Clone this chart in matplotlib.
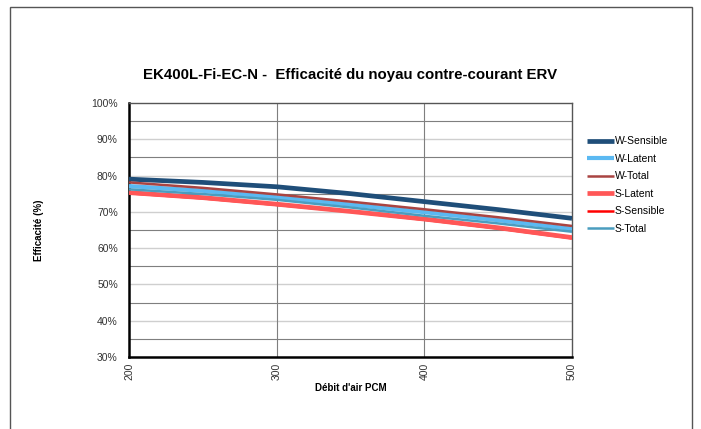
import matplotlib
matplotlib.use("Agg")
import matplotlib.pyplot as plt
from matplotlib.patches import Rectangle
import numpy as np

# débit d'air (PCM) et efficacités (%)
debit = [200, 250, 300, 350, 400, 450, 500]
w_sensible = [79.0, 78.1, 76.9, 75.0, 72.8, 70.6, 68.2]
w_latent = [77.1, 75.8, 74.0, 72.0, 69.9, 67.7, 65.3]
w_total = [78.1, 76.6, 74.8, 72.8, 70.7, 68.5, 66.1]
s_latent = [75.3, 73.9, 72.1, 70.1, 68.0, 65.6, 62.9]
s_sensible = [75.1, 73.7, 71.9, 70.0, 67.8, 65.4, 62.7]
s_total = [76.2, 74.9, 73.3, 71.2, 68.9, 66.8, 64.5]

noms = ["W-Sensible", "W-Latent", "W-Total", "S-Latent", "S-Sensible", "S-Total"]
series = [w_sensible, w_latent, w_total, s_latent, s_sensible, s_total]
couleurs = ["#1F4E79", "#5BB9F2", "#A94442", "#FF5757", "#FF0000", "#4A9DBF"]
largeurs = [3.4, 3.0, 1.8, 3.4, 1.8, 1.8]
ordre = [3, 3, 4, 4, 3.5, 5]  # S-Sensible caché sous S-Latent

plt.rcParams["font.family"] = ["Liberation Sans", "DejaVu Sans"]

fig = plt.figure(figsize=(7.01, 4.29), dpi=100)
ax = fig.add_axes([0.184, 0.168, 0.632, 0.592])

# cadre extérieur
fig.patches.append(Rectangle((10 / 701, -0.05), 682 / 701, 1.05 - 7 / 429,
                             transform=fig.transFigure, fill=False,
                             edgecolor="#555555", linewidth=1.0))

# grille
for v in np.arange(35, 100, 10):
    ax.axhline(v, color="#7f7f7f", linewidth=0.8, zorder=1)
for v in np.arange(40, 100, 10):
    ax.axhline(v, color="#cfcfcf", linewidth=1.0, zorder=1)
for v in [300, 400]:
    ax.axvline(v, color="#7f7f7f", linewidth=0.8, zorder=1)

for nom, y, c, lw, z in zip(noms, series, couleurs, largeurs, ordre):
    ax.plot(debit, y, color=c, linewidth=lw, label=nom, zorder=z,
            solid_capstyle="butt")

ax.set_xlim(200, 500)
ax.set_ylim(30, 100)
ax.set_xticks([200, 300, 400, 500])
ax.set_yticks(range(30, 101, 10))
ax.set_yticklabels([f"{v}%" for v in range(30, 101, 10)])
ax.tick_params(axis="both", length=0, labelsize=7.5, colors="#333333")
ax.tick_params(axis="x", labelrotation=90, pad=4)
ax.tick_params(axis="y", pad=8)

for s in ["left", "bottom"]:
    ax.spines[s].set_color("black")
    ax.spines[s].set_linewidth(1.8)
for s in ["top", "right"]:
    ax.spines[s].set_color("#555555")
    ax.spines[s].set_linewidth(1.0)

ax.set_xlabel("Débit d'air PCM", fontsize=7, fontweight="bold", labelpad=2)
ax.set_ylabel("Efficacité (%)", fontsize=7, fontweight="bold", labelpad=34)

fig.text(0.5, 0.825, "EK400L-Fi-EC-N -  Efficacité du noyau contre-courant ERV",
         ha="center", va="center", fontsize=10.8, fontweight="bold")

ax.legend(loc="upper left", bbox_to_anchor=(1.024, 0.885), frameon=False,
          fontsize=7.5, handlelength=2.6, handletextpad=0.1, labelspacing=0.72,
          borderaxespad=0)

fig.savefig("out.png", dpi=100)
